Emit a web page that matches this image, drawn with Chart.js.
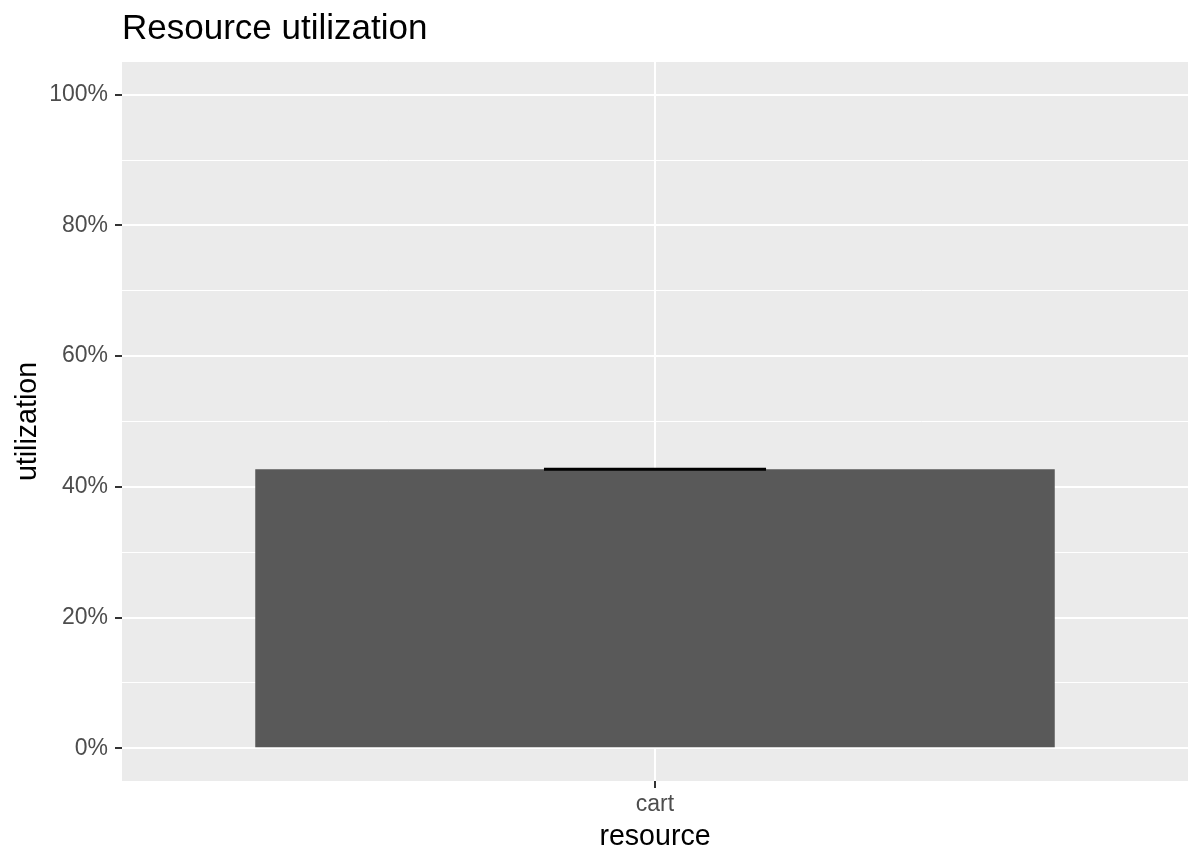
<!DOCTYPE html>
<html>
<head>
<meta charset="utf-8">
<script src="https://cdn.jsdelivr.net/npm/chart.js@4/dist/chart.umd.min.js"></script>
<style>
  html, body { margin: 0; padding: 0; background: #ffffff; }
  #wrap { width: 1202px; height: 866px; }
</style>
</head>
<body>
<div id="wrap"><canvas id="utilChart" width="1202" height="866"></canvas></div>
<script>
// data
const resources = ['cart'];
const utilization = [0.427];
const utilLow = [0.4265];
const utilHigh = [0.4275];

// y axis ticks: labelled (major) and unlabelled (minor) grid lines
const yMajorTicks = [0, 0.2, 0.4, 0.6, 0.8, 1.0];
const yMinorTicks = [0.1, 0.3, 0.5, 0.7, 0.9];

const FONT = "'Liberation Sans', Arial, Helvetica, sans-serif";

function isMajor(v) {
    return yMajorTicks.some(t => Math.abs(t - v) < 1e-9);
}

// grey panel behind the grid
const panelBg = {
    id: 'panelBg',
    beforeDraw(chart) {
        const a = chart.chartArea;
        const ctx = chart.ctx;
        ctx.save();
        ctx.fillStyle = '#ebebeb';
        ctx.fillRect(a.left, a.top, a.right - a.left, a.bottom - a.top);
        ctx.restore();
    }
};

// error bars drawn through the scales
const errorBars = {
    id: 'errorBars',
    afterDatasetsDraw(chart) {
        const meta = chart.getDatasetMeta(0);
        const y = chart.scales.y;
        const ctx = chart.ctx;
        ctx.save();
        ctx.strokeStyle = '#000000';
        ctx.lineWidth = 2.5;
        meta.data.forEach((bar, i) => {
            const half = bar.width * (0.25 / 0.9) / 2;
            const yLo = y.getPixelForValue(utilLow[i]);
            const yHi = y.getPixelForValue(utilHigh[i]);
            ctx.beginPath();
            ctx.moveTo(bar.x - half, yLo);
            ctx.lineTo(bar.x + half, yLo);
            ctx.moveTo(bar.x - half, yHi);
            ctx.lineTo(bar.x + half, yHi);
            ctx.moveTo(bar.x, yLo);
            ctx.lineTo(bar.x, yHi);
            ctx.stroke();
        });
        ctx.restore();
    }
};

const ctx = document.getElementById('utilChart').getContext('2d');
new Chart(ctx, {
    type: 'bar',
    data: {
        labels: resources,
        datasets: [{
            label: 'utilization',
            data: utilization,
            backgroundColor: '#595959',
            borderWidth: 0,
            barPercentage: 0.75,
            categoryPercentage: 1.0
        }]
    },
    options: {
        responsive: false,
        animation: false,
        layout: {
            padding: { left: 0, right: 14, top: 0, bottom: 0 }
        },
        plugins: {
            legend: { display: false },
            tooltip: { enabled: false },
            title: {
                display: true,
                text: 'Resource utilization',
                align: 'start',
                fullSize: false,
                color: '#000000',
                font: { family: FONT, size: 35, weight: 'normal' },
                padding: { top: 8, bottom: 12 }
            }
        },
        scales: {
            x: {
                offset: true,
                border: { display: false },
                grid: {
                    offset: false,
                    color: '#ffffff',
                    lineWidth: 2,
                    tickColor: '#333333',
                    tickWidth: 2,
                    tickLength: 7
                },
                ticks: {
                    color: '#4d4d4d',
                    padding: 3,
                    font: { family: FONT, size: 23 }
                },
                title: {
                    display: true,
                    text: 'resource',
                    color: '#000000',
                    font: { family: FONT, size: 28.6 },
                    padding: { top: 0, bottom: 12 }
                },
                afterFit(scale) { scale.height = 85; }
            },
            y: {
                min: -0.05,
                max: 1.05,
                border: { display: false },
                afterBuildTicks(scale) {
                    scale.ticks = yMajorTicks.concat(yMinorTicks)
                        .sort((a, b) => a - b)
                        .map(v => ({ value: v }));
                },
                grid: {
                    color: '#ffffff',
                    lineWidth: c => isMajor(c.tick.value) ? 2 : 1,
                    tickColor: c => isMajor(c.tick.value) ? '#333333' : 'rgba(0,0,0,0)',
                    tickWidth: 2,
                    tickLength: 7
                },
                ticks: {
                    color: '#4d4d4d',
                    padding: 7,
                    autoSkip: false,
                    font: { family: FONT, size: 23 },
                    callback: v => isMajor(v) ? Math.round(v * 100) + '%' : ''
                },
                title: {
                    display: true,
                    text: 'utilization',
                    color: '#000000',
                    font: { family: FONT, size: 28.6 },
                    padding: { top: 11, bottom: 0 }
                },
                afterFit(scale) { scale.width = 122; }
            }
        }
    },
    plugins: [panelBg, errorBars]
});
</script>
</body>
</html>
